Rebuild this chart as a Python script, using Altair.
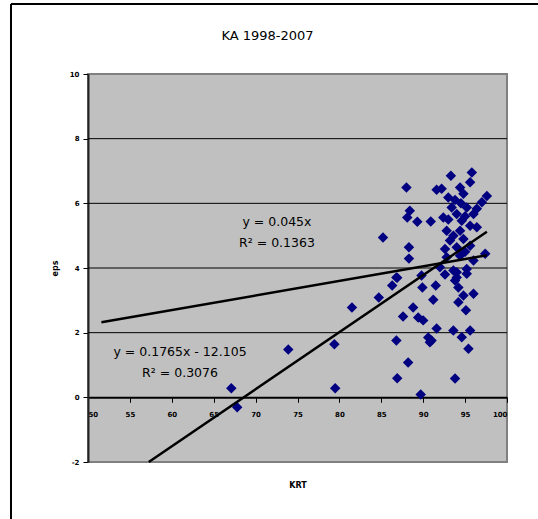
import altair as alt
import pandas as pd

# ---- data ----
krt = [67.1, 67.8, 73.9, 79.4, 79.5, 81.5, 85.2, 84.7, 86.3, 86.9,
       87.6, 88.8, 89.4, 90.0, 89.9, 91.2, 91.5, 86.8, 90.6, 90.8,
       91.6, 88.2, 86.9, 89.7, 88.0, 88.4, 88.1, 89.3, 90.9, 88.3,
       88.3, 89.8, 91.6, 93.3, 95.8, 95.6, 92.2, 94.4, 94.8, 97.6,
       97.0, 93.0, 93.4, 95.2, 96.4, 92.4, 94.0, 96.0, 94.6, 95.6,
       92.8, 94.4, 96.4, 93.2, 94.8, 92.6, 94.0, 95.6, 97.4, 92.8,
       94.4, 96.0, 92.0, 93.6, 95.2, 94.0, 94.0, 95.2, 93.8, 94.2,
       94.8, 94.2, 96.0, 95.1, 91.0, 93.6, 94.6, 95.6, 95.4, 93.8,
       86.8, 93.6, 95.0, 93.8, 95.0, 93.0, 94.5, 92.6]
eps = [0.28, -0.31, 1.48, 1.64, 0.28, 2.78, 4.94, 3.09, 3.46, 3.70,
       2.50, 2.78, 2.47, 2.38, 3.40, 3.02, 3.46, 1.76, 1.85, 1.70,
       2.13, 1.08, 0.59, 0.09, 6.49, 5.77, 5.56, 5.43, 5.44, 4.64,
       4.29, 3.77, 6.42, 6.85, 6.95, 6.65, 6.45, 6.49, 6.30, 6.23,
       6.03, 6.18, 5.87, 5.87, 5.83, 5.56, 5.67, 5.67, 5.46, 5.31,
       5.15, 5.15, 5.26, 4.85, 4.90, 4.59, 4.64, 4.69, 4.44, 4.33,
       4.38, 4.23, 4.02, 3.92, 3.97, 3.71, 3.87, 3.82, 3.61, 3.40,
       3.15, 2.94, 3.20, 2.69, 1.76, 2.07, 1.86, 2.07, 1.50, 0.58,
       3.71, 5.00, 5.60, 6.10, 4.50, 5.50, 6.00, 3.80]

chart_title = "KA 1998-2007"
x_title = "KRT"
y_title = "eps"
x_ticks = [50, 55, 60, 65, 70, 75, 80, 85, 90, 95, 100]
y_ticks = [-2, 0, 2, 4, 6, 8, 10]
grid_values = [2, 4, 6, 8]

# trendlines as shown in the chart's equations
trend_slope = [0.045, 0.1765]
trend_intercept = [0.0, -12.105]
trend_x_start = [51.6, 57.25]
trend_x_end = [97.6, 97.6]

eq_text = ["y = 0.045x", "R² = 0.1363", "y = 0.1765x - 12.105", "R² = 0.3076"]
eq_x = [72.55, 72.55, 60.98, 60.98]
eq_y = [5.42, 4.77, 1.39, 0.74]

# ---- tables ----
pts = pd.DataFrame({"krt": krt, "eps": eps})
rows = []
for i in range(len(trend_slope)):
    for xv in (trend_x_start[i], trend_x_end[i]):
        rows.append({"line": i, "krt": xv, "m": trend_slope[i], "b": trend_intercept[i]})
trend = pd.DataFrame(rows)
grid = pd.DataFrame({"v": grid_values})
eqs = pd.DataFrame({"t": eq_text, "x": eq_x, "y": eq_y})

xs = alt.Scale(domain=[50, 100], nice=False, zero=False)
ys = alt.Scale(domain=[-2, 10], nice=False, zero=False)

FONT = "DejaVu Sans"
hyphen_minus = "datum.value < 0 ? '-' + abs(datum.value) : datum.label"

x_axis = alt.Axis(values=x_ticks, grid=False, offset=-64.67, domainColor="black",
                  domainWidth=2, tickColor="black", tickSize=5, tickWidth=1,
                  labelFont=FONT, labelFontWeight="bold", labelFontSize=7,
                  labelPadding=8, labelColor="black", title=x_title,
                  titleFont=FONT, titleFontWeight="bold", titleFontSize=8,
                  titleY=88, titleBaseline="middle", titleColor="black")
y_axis = alt.Axis(values=y_ticks, grid=False, domainColor="#222222", domainWidth=2,
                  tickColor="black", tickSize=5, tickWidth=1,
                  labelFont=FONT, labelFontWeight="bold", labelFontSize=7,
                  labelPadding=4, labelColor="black", labelExpr=hyphen_minus,
                  title=y_title,
                  titleFont=FONT, titleFontWeight="bold", titleFontSize=8,
                  titleX=-33, titleBaseline="middle", titleColor="black")

gridlines = alt.Chart(grid).mark_rule(color="black", strokeWidth=1).encode(
    y=alt.Y("v:Q", scale=ys, title=y_title))

points = alt.Chart(pts).mark_point(shape="diamond", filled=True, size=110,
                                   color="#000080", opacity=1).encode(
    x=alt.X("krt:Q", scale=xs, axis=x_axis),
    y=alt.Y("eps:Q", scale=ys, axis=y_axis))

lines = alt.Chart(trend).transform_calculate(
    fit="datum.m * datum.krt + datum.b").mark_line(
    color="black", strokeWidth=2.5).encode(
    x=alt.X("krt:Q", scale=xs, title=x_title),
    y=alt.Y("fit:Q", scale=ys, title=y_title),
    detail="line:N")

labels = alt.Chart(eqs).mark_text(font=FONT, fontSize=12.5, color="black",
                                  align="center", baseline="middle").encode(
    x=alt.X("x:Q", scale=xs, title=x_title),
    y=alt.Y("y:Q", scale=ys, title=y_title),
    text="t:N")

frame_top = alt.Chart(grid).mark_rule(color="black", strokeWidth=2).encode(
    x=alt.value(-77), x2=alt.value(460), y=alt.value(-70))
frame_left = alt.Chart(grid).mark_rule(color="black", strokeWidth=2).encode(
    x=alt.value(-77), y=alt.value(-70), y2=alt.value(460))

chart = alt.layer(gridlines, points, lines, labels, frame_top, frame_left).properties(
    width=419, height=388,
    title=alt.TitleParams(chart_title, font=FONT, fontSize=13, fontWeight="normal",
                          color="black", anchor="middle", dx=-30, offset=-40),
    autosize=alt.AutoSizeParams(type="none"),
    padding={"left": 88, "top": 74, "right": 31, "bottom": 57},
    background="white",
).configure_view(fill="#C0C0C0", stroke="#808080", strokeWidth=2)

chart.save("out.html", embed_options={"renderer": "svg", "actions": False})
